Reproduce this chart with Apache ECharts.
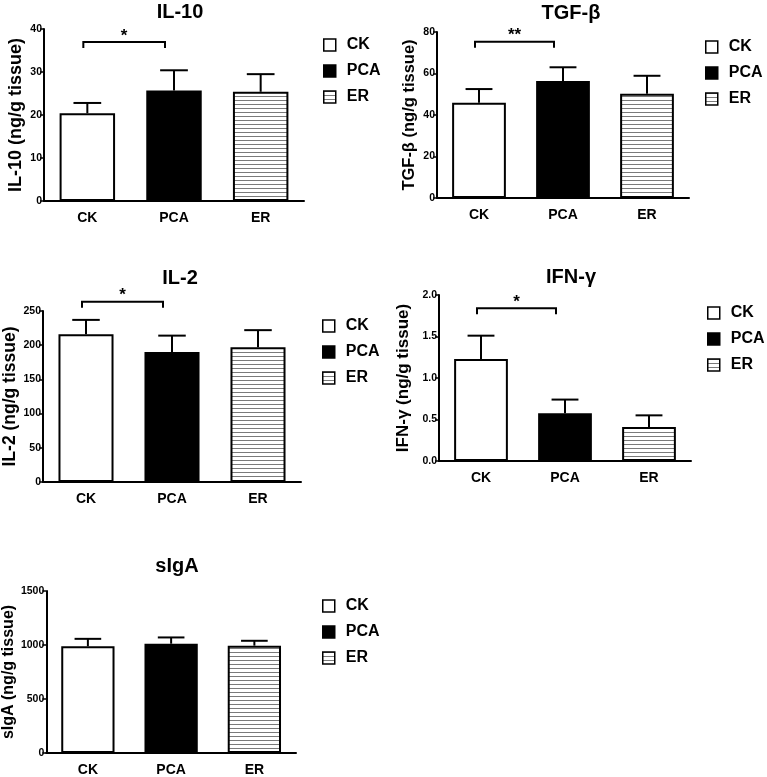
<!DOCTYPE html>
<html>
<head>
<meta charset="utf-8">
<script src="https://cdn.jsdelivr.net/npm/echarts@6/dist/echarts.min.js"></script>
<style>
html,body{margin:0;padding:0;background:#fff;}
#c{width:767px;height:777px;}
</style>
</head>
<body>
<div id="c"></div>
<script>
// ---- data ----
const groups = ['CK', 'PCA', 'ER'];
const panelTitles = ['IL-10', 'TGF-β', 'IL-2', 'IFN-γ', 'sIgA'];
const yNames = ['IL-10 (ng/g tissue)', 'TGF-β (ng/g tissue)', 'IL-2 (ng/g tissue)', 'IFN-γ (ng/g tissue)', 'sIgA (ng/g tissue)'];
const yMax = [40, 80, 250, 2.0, 1500];
const yInterval = [10, 20, 50, 0.5, 500];

const il10Mean = [20.4, 25.7, 25.4];
const il10Upper = [22.8, 30.4, 29.5];
const tgfMean = [45.9, 56.4, 50.3];
const tgfUpper = [52.5, 63.0, 58.9];
const il2Mean = [216, 190, 197];
const il2Upper = [237, 214, 222];
const ifnMean = [1.23, 0.575, 0.41];
const ifnUpper = [1.51, 0.74, 0.55];
const sigaMean = [988, 1012, 994];
const sigaUpper = [1057, 1070, 1039];

// significance brackets: [fromIndex, toIndex, value], label
const sigBrackets = [[0, 1, 37.0], [0, 1, 75.3], [0, 1, 263.5], [0, 1, 1.84], null];
const sigLabels = ['*', '**', '*', '*', null];

const means = [il10Mean, tgfMean, il2Mean, ifnMean, sigaMean];
const uppers = [il10Upper, tgfUpper, il2Upper, ifnUpper, sigaUpper];

// ---- layout (pixels) ----
const grids = [
  {left: 44, top: 29, width: 260, height: 172},
  {left: 437, top: 32, width: 252, height: 166},
  {left: 43, top: 311, width: 258, height: 171},
  {left: 439, top: 295, width: 252, height: 166},
  {left: 44, top: 591, width: 252, height: 166}
];
const titlePos = [[175, -3], [566, -2], [175, 263], [566, 262], [172, 551]];
const legendPos = [[323, 37], [705, 39], [322, 318], [707, 305], [322, 598]];
const nameGaps = [19, 19, 23, 27, 29];
const nameSizes = [18, 16.5, 17.5, 17, 16];

const FONT = '"Liberation Sans", Arial, Helvetica, sans-serif';

// stripe pattern for ER
const pc = document.createElement('canvas');
pc.width = 4; pc.height = 4;
const pctx = pc.getContext('2d');
pctx.fillStyle = '#ffffff'; pctx.fillRect(0, 0, 4, 4);
pctx.fillStyle = '#7a7a7a'; pctx.fillRect(0, 0, 4, 1);
const stripe = {image: pc, repeat: 'repeat'};

const groupStyles = [
  {color: '#ffffff', borderColor: '#000', borderWidth: 2},
  {color: '#000000', borderColor: '#000', borderWidth: 2},
  {color: stripe, borderColor: '#000', borderWidth: 2}
];

function renderErr(params, api) {
  const x = api.value(0), m = api.value(1), u = api.value(2);
  const p0 = api.coord([x, m]);
  const p1 = api.coord([x, u]);
  const half = api.size([1, 0])[0] * 0.16;
  return {type: 'group', children: [
    {type: 'line', shape: {x1: p0[0], y1: p0[1], x2: p1[0], y2: p1[1]}, style: {stroke: '#000', lineWidth: 2}},
    {type: 'line', shape: {x1: p1[0] - half, y1: p1[1], x2: p1[0] + half, y2: p1[1]}, style: {stroke: '#000', lineWidth: 2}}
  ]};
}

function makeBracketRenderer(label) {
  return function (params, api) {
    const a = api.coord([api.value(0), api.value(2)]);
    const b = api.coord([api.value(1), api.value(2)]);
    const ax = a[0] - 4, bx = b[0] - 9, y = a[1];
    return {type: 'group', children: [
      {type: 'polyline', shape: {points: [[ax, y + 6], [ax, y], [bx, y], [bx, y + 6]]},
        style: {stroke: '#000', lineWidth: 2, fill: null}},
      {type: 'text', x: (ax + bx) / 2, y: y - 6,
        style: {text: label, font: 'bold 17px ' + FONT, fill: '#000', align: 'center', verticalAlign: 'middle'}}
    ]};
  };
}

const option = {
  animation: false,
  backgroundColor: '#fff',
  title: [], legend: [], grid: [], xAxis: [], yAxis: [], series: []
};

for (let p = 0; p < 5; p++) {
  option.grid.push(Object.assign({containLabel: false}, grids[p]));
  option.title.push({
    text: panelTitles[p], left: titlePos[p][0], top: titlePos[p][1], textAlign: 'center',
    textStyle: {fontFamily: FONT, fontWeight: 'bold', fontSize: 20, color: '#000'}
  });
  option.legend.push({
    orient: 'vertical', left: legendPos[p][0], top: legendPos[p][1], padding: 0,
    itemWidth: 12, itemHeight: 12, itemGap: 10, icon: 'rect',
    data: groups,
    itemStyle: {borderColor: '#000', borderWidth: 1.5},
    textStyle: {fontFamily: FONT, fontWeight: 'bold', fontSize: 16, color: '#000', padding: [0, 0, 0, 6]},
    selectedMode: false
  });
  option.xAxis.push({
    type: 'category', gridIndex: p, data: groups,
    axisLine: {lineStyle: {color: '#000', width: 2}},
    axisTick: {alignWithLabel: true, length: 3, lineStyle: {color: '#000', width: 1.5}},
    axisLabel: {fontFamily: FONT, fontWeight: 'bold', fontSize: 14, color: '#000', margin: 10}
  });
  option.yAxis.push({
    type: 'value', gridIndex: p, min: 0, max: yMax[p], interval: yInterval[p],
    name: yNames[p], nameLocation: 'middle', nameGap: nameGaps[p],
    nameTextStyle: {fontFamily: FONT, fontWeight: 'bold', fontSize: nameSizes[p], color: '#000'},
    axisLine: {show: true, lineStyle: {color: '#000', width: 2}},
    axisTick: {show: true, length: 4, lineStyle: {color: '#000', width: 1.5}},
    axisLabel: {fontFamily: FONT, fontWeight: 'bold', fontSize: 10.5, color: '#000', margin: 2,
      formatter: p === 3 ? (v => v.toFixed(1)) : (v => String(v))},
    splitLine: {show: false}
  });
  for (let g = 0; g < 3; g++) {
    option.series.push({
      type: 'bar', name: groups[g], xAxisIndex: p, yAxisIndex: p,
      barWidth: '64%', barGap: '-100%',
      data: means[p].map((v, j) => (j === g ? v : '-')),
      itemStyle: groupStyles[g]
    });
  }
  option.series.push({
    type: 'custom', xAxisIndex: p, yAxisIndex: p, renderItem: renderErr, clip: false,
    encode: {x: 0, y: [1, 2]},
    data: means[p].map((v, j) => [j, v, uppers[p][j]]), z: 5
  });
  if (sigBrackets[p]) {
    option.series.push({
      type: 'custom', xAxisIndex: p, yAxisIndex: p, renderItem: makeBracketRenderer(sigLabels[p]), clip: false,
      encode: {x: 0, y: 2},
      data: [sigBrackets[p]], z: 6
    });
  }
}

const chart = echarts.init(document.getElementById('c'), null, {renderer: 'canvas'});
chart.setOption(option);
</script>
</body>
</html>
